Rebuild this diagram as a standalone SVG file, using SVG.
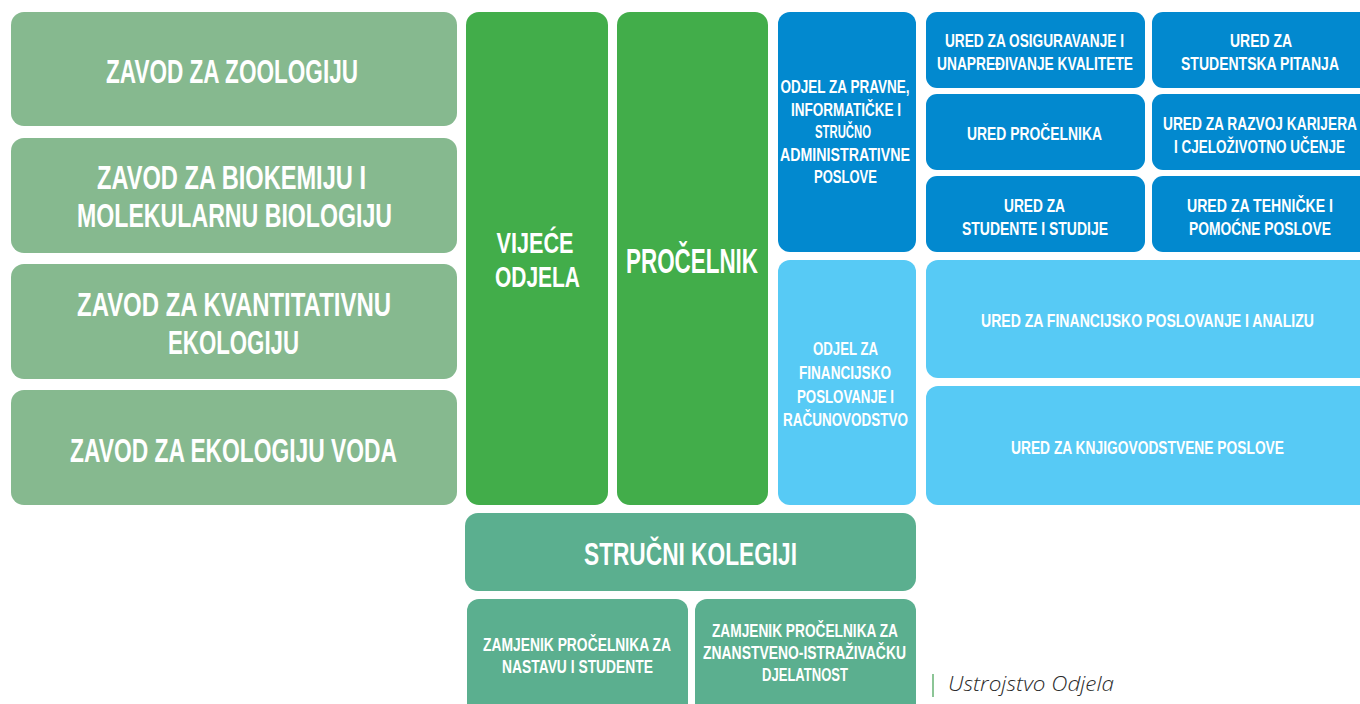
<svg xmlns="http://www.w3.org/2000/svg" width="1360" height="704" viewBox="0 0 1360 704">
<style>
text{font-family:"Liberation Sans",Arial,sans-serif;font-weight:bold;fill:#fff;text-anchor:middle}
.zavod{fill:#86b98f}
.main{fill:#42ad4a}
.dark{fill:#0289cf}
.light{fill:#57caf5}
.teal{fill:#5baf8f}
.f33{font-size:33px}
.f29{font-size:29px}
.f35{font-size:35px}
.f32{font-size:32px}
.f19{font-size:19px}
.cap{font-family:"Open Sans","Liberation Sans",sans-serif;font-weight:300;font-style:italic;fill:#2b2b2b;text-anchor:start;font-size:19.5px}
</style>
<rect width="1360" height="704" fill="#fff"/>

<g id="zavod-zoologija">
<rect class="zavod" x="11" y="12" width="446" height="114" rx="13"/>
<text class="f33" x="232" y="83" textLength="252" lengthAdjust="spacingAndGlyphs">ZAVOD ZA ZOOLOGIJU</text>
</g>
<g id="zavod-biokemija">
<rect class="zavod" x="11" y="138" width="446" height="115" rx="13"/>
<text class="f33" x="231.5" y="189" textLength="269" lengthAdjust="spacingAndGlyphs">ZAVOD ZA BIOKEMIJU I</text>
<text class="f33" x="234.5" y="227" textLength="315" lengthAdjust="spacingAndGlyphs">MOLEKULARNU BIOLOGIJU</text>
</g>
<g id="zavod-kvantitativna">
<rect class="zavod" x="11" y="264" width="446" height="115" rx="13"/>
<text class="f33" x="234" y="316" textLength="314" lengthAdjust="spacingAndGlyphs">ZAVOD ZA KVANTITATIVNU</text>
<text class="f33" x="233.5" y="354" textLength="131" lengthAdjust="spacingAndGlyphs">EKOLOGIJU</text>
</g>
<g id="zavod-voda">
<rect class="zavod" x="11" y="390" width="446" height="115" rx="13"/>
<text class="f33" x="233.5" y="461.5" textLength="327" lengthAdjust="spacingAndGlyphs">ZAVOD ZA EKOLOGIJU VODA</text>
</g>

<g id="vijece-odjela">
<rect class="main" x="466" y="12" width="142" height="493" rx="13"/>
<text class="f29" x="535" y="253" textLength="77" lengthAdjust="spacingAndGlyphs">VIJEĆE</text>
<text class="f29" x="537.5" y="287" textLength="85" lengthAdjust="spacingAndGlyphs">ODJELA</text>
</g>
<g id="procelnik">
<rect class="main" x="617" y="12" width="151" height="493" rx="13"/>
<text class="f35" x="692" y="273" textLength="132" lengthAdjust="spacingAndGlyphs">PROČELNIK</text>
</g>

<g id="odjel-pravni">
<rect class="dark" x="778" y="12" width="138" height="240" rx="12"/>
<text class="f19" x="845" y="93" textLength="129" lengthAdjust="spacingAndGlyphs">ODJEL ZA PRAVNE,</text>
<text class="f19" x="846" y="115.5" textLength="110" lengthAdjust="spacingAndGlyphs">INFORMATIČKE I</text>
<text class="f19" x="843" y="138" textLength="56" lengthAdjust="spacingAndGlyphs">STRUČNO</text>
<text class="f19" x="845" y="160.5" textLength="130" lengthAdjust="spacingAndGlyphs">ADMINISTRATIVNE</text>
<text class="f19" x="845.5" y="183" textLength="63" lengthAdjust="spacingAndGlyphs">POSLOVE</text>
</g>
<g id="odjel-financijski">
<rect class="light" x="778" y="260" width="138" height="245" rx="12"/>
<text class="f19" x="845.5" y="355" textLength="65" lengthAdjust="spacingAndGlyphs">ODJEL ZA</text>
<text class="f19" x="845" y="379" textLength="92" lengthAdjust="spacingAndGlyphs">FINANCIJSKO</text>
<text class="f19" x="845.5" y="403" textLength="97" lengthAdjust="spacingAndGlyphs">POSLOVANJE I</text>
<text class="f19" x="845.5" y="426" textLength="125" lengthAdjust="spacingAndGlyphs">RAČUNOVODSTVO</text>
</g>

<g id="ured-kvaliteta">
<rect class="dark" x="926" y="12" width="219" height="76" rx="11"/>
<text class="f19" x="1034.5" y="47" textLength="179" lengthAdjust="spacingAndGlyphs">URED ZA OSIGURAVANJE I</text>
<text class="f19" x="1035" y="70" textLength="196" lengthAdjust="spacingAndGlyphs">UNAPREĐIVANJE KVALITETE</text>
</g>
<g id="ured-studentska-pitanja">
<path class="dark" d="M1163,12 H1360 V88 H1163 A11,11 0 0 1 1152,77 V23 A11,11 0 0 1 1163,12 Z"/>
<text class="f19" x="1261" y="47" textLength="62" lengthAdjust="spacingAndGlyphs">URED ZA</text>
<text class="f19" x="1260" y="70" textLength="158" lengthAdjust="spacingAndGlyphs">STUDENTSKA PITANJA</text>
</g>
<g id="ured-procelnika">
<rect class="dark" x="926" y="94" width="219" height="76" rx="11"/>
<text class="f19" x="1034.5" y="140" textLength="135" lengthAdjust="spacingAndGlyphs">URED PROČELNIKA</text>
</g>
<g id="ured-karijera">
<path class="dark" d="M1163,94 H1360 V170 H1163 A11,11 0 0 1 1152,159 V105 A11,11 0 0 1 1163,94 Z"/>
<text class="f19" x="1260" y="130" textLength="194" lengthAdjust="spacingAndGlyphs">URED ZA RAZVOJ KARIJERA</text>
<text class="f19" x="1259.5" y="153" textLength="171" lengthAdjust="spacingAndGlyphs">I CJELOŽIVOTNO UČENJE</text>
</g>
<g id="ured-studenti">
<rect class="dark" x="926" y="176" width="219" height="76" rx="11"/>
<text class="f19" x="1034.5" y="212" textLength="61" lengthAdjust="spacingAndGlyphs">URED ZA</text>
<text class="f19" x="1035" y="235" textLength="146" lengthAdjust="spacingAndGlyphs">STUDENTE I STUDIJE</text>
</g>
<g id="ured-tehnicki">
<path class="dark" d="M1163,176 H1360 V252 H1163 A11,11 0 0 1 1152,241 V187 A11,11 0 0 1 1163,176 Z"/>
<text class="f19" x="1260" y="212" textLength="146" lengthAdjust="spacingAndGlyphs">URED ZA TEHNIČKE I</text>
<text class="f19" x="1260" y="235" textLength="142" lengthAdjust="spacingAndGlyphs">POMOĆNE POSLOVE</text>
</g>

<g id="ured-financije">
<path class="light" d="M938,260 H1360 V378 H938 A12,12 0 0 1 926,366 V272 A12,12 0 0 1 938,260 Z"/>
<text class="f19" x="1147.5" y="327" textLength="333" lengthAdjust="spacingAndGlyphs">URED ZA FINANCIJSKO POSLOVANJE I ANALIZU</text>
</g>
<g id="ured-knjigovodstvo">
<path class="light" d="M938,386 H1360 V505 H938 A12,12 0 0 1 926,493 V398 A12,12 0 0 1 938,386 Z"/>
<text class="f19" x="1147.5" y="454" textLength="273" lengthAdjust="spacingAndGlyphs">URED ZA KNJIGOVODSTVENE POSLOVE</text>
</g>

<g id="strucni-kolegiji">
<rect class="teal" x="465" y="513" width="451" height="78" rx="13"/>
<text class="f32" x="690.5" y="565" textLength="213" lengthAdjust="spacingAndGlyphs">STRUČNI KOLEGIJI</text>
</g>
<g id="zamjenik-nastava">
<path class="teal" d="M479,599 H676 A12,12 0 0 1 688,611 V704 H467 V611 A12,12 0 0 1 479,599 Z"/>
<text class="f19" x="577" y="651" textLength="188" lengthAdjust="spacingAndGlyphs">ZAMJENIK PROČELNIKA ZA</text>
<text class="f19" x="577.5" y="673" textLength="151" lengthAdjust="spacingAndGlyphs">NASTAVU I STUDENTE</text>
</g>
<g id="zamjenik-znanost">
<path class="teal" d="M707,599 H904 A12,12 0 0 1 916,611 V704 H695 V611 A12,12 0 0 1 707,599 Z"/>
<text class="f19" x="805" y="637" textLength="186" lengthAdjust="spacingAndGlyphs">ZAMJENIK PROČELNIKA ZA</text>
<text class="f19" x="804.5" y="659" textLength="203" lengthAdjust="spacingAndGlyphs">ZNANSTVENO-ISTRAŽIVAČKU</text>
<text class="f19" x="805" y="681" textLength="86" lengthAdjust="spacingAndGlyphs">DJELATNOST</text>
</g>

<g id="connectors"></g>

<g id="caption">
<rect x="932" y="674" width="2" height="23" fill="#8cc596"/>
<text class="cap" x="948" y="691" textLength="166" lengthAdjust="spacingAndGlyphs">Ustrojstvo Odjela</text>
</g>
</svg>
